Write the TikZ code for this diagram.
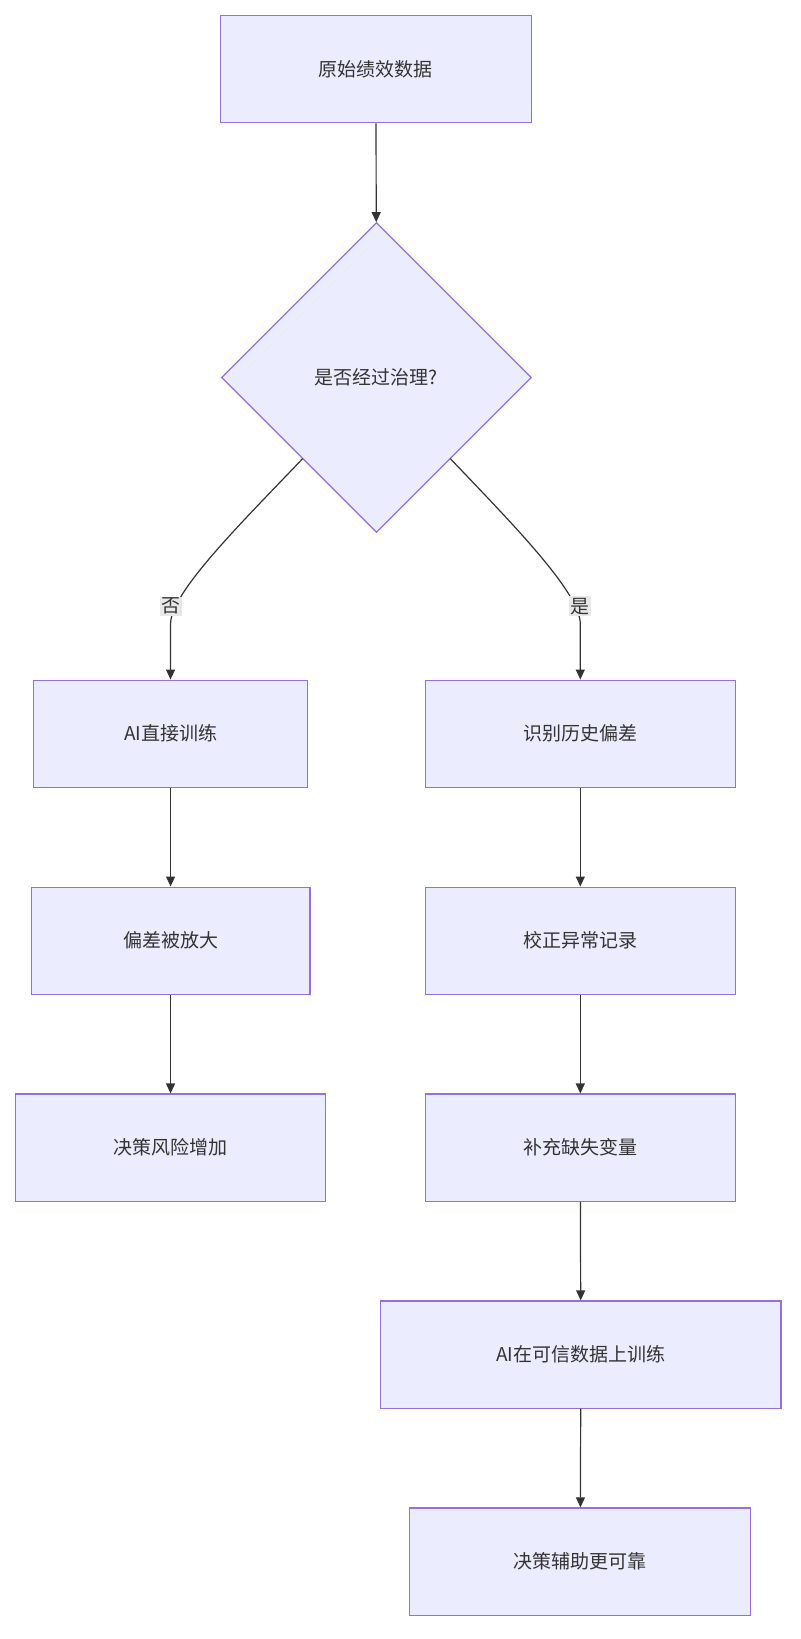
\documentclass[tikz,border=0pt]{standalone}
\usepackage{fontspec}
\setmainfont{Noto Sans CJK SC}
\usetikzlibrary{shapes.geometric,arrows.meta}
\definecolor{nfill}{HTML}{ECECFF}
\definecolor{nline}{HTML}{9370DB}
\definecolor{ed}{HTML}{333333}
\definecolor{lbl}{HTML}{E8E8E8}
\begin{document}
\begin{tikzpicture}[x=1.0403pt,y=-1.0403pt,
 box/.style={draw=nline,fill=nfill,line width=1.2pt,inner sep=0pt,font=\fontsize{19}{22}\selectfont,text=ed},
 arr/.style={draw=ed,line width=1.2pt,-{Triangle[length=10pt,width=9pt]}},
 lab/.style={fill=lbl,inner sep=1.5pt,font=\fontsize{19}{22}\selectfont,text=ed}]
\useasboundingbox (0,0) rectangle (770,1576);
\newcommand{\bx}[6]{\node[box,minimum width=#4*1.0403pt-#2*1.0403pt,minimum height=#5*1.0403pt-#3*1.0403pt] (#1) at ({(#2+#4)/2},{(#3+#5)/2}) {#6};}
\bx{a}{212}{15}{511}{118}{原始绩效数据}
\node[box,diamond,minimum width=310pt,minimum height=310pt,aspect=1] (d) at (362,363) {是否经过治理?};
\bx{l1}{32}{654}{296}{757}{AI直接训练}
\bx{l2}{30}{853}{298}{956}{偏差被放大}
\bx{l3}{15}{1052}{313}{1155}{决策风险增加}
\bx{r1}{409}{654}{707}{757}{识别历史偏差}
\bx{r2}{409}{853}{707}{956}{校正异常记录}
\bx{r3}{409}{1052}{707}{1155}{补充缺失变量}
\bx{r4}{366}{1251}{751}{1354}{AI在可信数据上训练}
\bx{r5}{394}{1450}{722}{1553}{决策辅助更可靠}
\draw[arr] (a) -- (d);
\coordinate (dl) at (291,441);
\coordinate (dr) at (433,441);
\draw[arr] (dl) .. controls (230,505) and (164,570) .. (164,600) -- (l1.north);
\draw[arr] (dr) .. controls (494,505) and (558,570) .. (558,600) -- (r1.north);
\node[lab] (n) at (164,583) {否};
\node[lab] (y) at (558,583) {是};
\draw[arr] (l1) -- (l2);
\draw[arr] (l2) -- (l3);
\draw[arr] (r1) -- (r2);
\draw[arr] (r2) -- (r3);
\draw[arr] (r3) -- (r4);
\draw[arr] (r4) -- (r5);
\end{tikzpicture}
\end{document}
